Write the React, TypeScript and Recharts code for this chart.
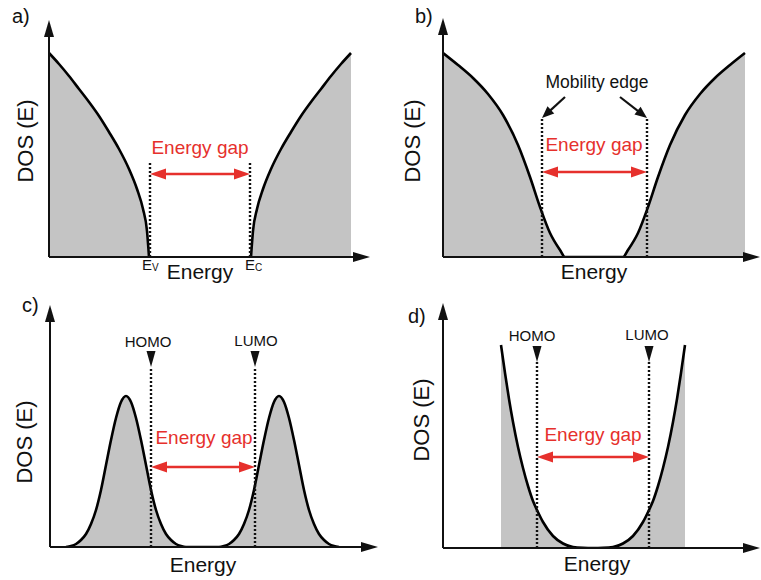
import React from 'react';
import { ComposedChart, Area, XAxis, YAxis, ReferenceLine, ReferenceDot } from 'recharts';

// ---------- data (energy / DOS in arbitrary units) ----------
type Pt = { e: number; dos: number | null };

// a) crystalline semiconductor: valence and conduction band edges
const aBands: Pt[] = [
  { e: 0, dos: 204 }, { e: 10, dos: 193 }, { e: 20, dos: 181 }, { e: 30, dos: 168 },
  { e: 40, dos: 155 }, { e: 50, dos: 141 }, { e: 60, dos: 125 }, { e: 70, dos: 108 },
  { e: 80, dos: 88 }, { e: 88, dos: 68 }, { e: 94, dos: 48 }, { e: 98, dos: 26 }, { e: 100, dos: 0 },
  { e: 151, dos: null },
  { e: 202, dos: 0 }, { e: 204, dos: 26 }, { e: 208, dos: 48 }, { e: 214, dos: 68 },
  { e: 222, dos: 88 }, { e: 232, dos: 108 }, { e: 242, dos: 125 }, { e: 252, dos: 141 },
  { e: 262, dos: 155 }, { e: 272, dos: 168 }, { e: 282, dos: 181 }, { e: 292, dos: 193 }, { e: 302, dos: 204 },
];

// b) amorphous semiconductor with band tails
const bBands: Pt[] = [
  { e: 0, dos: 204 }, { e: 15, dos: 192 }, { e: 30, dos: 179 }, { e: 45, dos: 163 },
  { e: 60, dos: 142 }, { e: 75, dos: 112 }, { e: 87, dos: 80 }, { e: 97, dos: 50 },
  { e: 107, dos: 24 }, { e: 117, dos: 7 }, { e: 122, dos: 0 }, { e: 180, dos: 0 },
  { e: 185, dos: 7 }, { e: 195, dos: 24 }, { e: 205, dos: 50 }, { e: 215, dos: 80 },
  { e: 227, dos: 112 }, { e: 242, dos: 142 }, { e: 257, dos: 163 }, { e: 272, dos: 179 },
  { e: 287, dos: 192 }, { e: 302, dos: 204 },
];

// c) molecular solid: gaussian HOMO / LUMO distributions
const cStates: Pt[] = [
  { e: 16, dos: 0 }, { e: 21, dos: 1 }, { e: 26, dos: 3 }, { e: 31, dos: 7 }, { e: 36, dos: 13 },
  { e: 41, dos: 23 }, { e: 46, dos: 37 }, { e: 51, dos: 57 }, { e: 56, dos: 82 }, { e: 61, dos: 107 },
  { e: 66, dos: 129 }, { e: 71, dos: 145 }, { e: 76, dos: 151 }, { e: 81, dos: 145 }, { e: 86, dos: 129 },
  { e: 91, dos: 107 }, { e: 96, dos: 82 }, { e: 101, dos: 57 }, { e: 106, dos: 37 }, { e: 111, dos: 23 },
  { e: 116, dos: 13 }, { e: 121, dos: 7 }, { e: 126, dos: 3 }, { e: 131, dos: 1 }, { e: 136, dos: 0 },
  { e: 169, dos: 0 }, { e: 174, dos: 1 }, { e: 179, dos: 3 }, { e: 184, dos: 7 }, { e: 189, dos: 13 },
  { e: 194, dos: 23 }, { e: 199, dos: 37 }, { e: 204, dos: 57 }, { e: 209, dos: 82 }, { e: 214, dos: 107 },
  { e: 219, dos: 129 }, { e: 224, dos: 145 }, { e: 229, dos: 151 }, { e: 234, dos: 145 }, { e: 239, dos: 129 },
  { e: 244, dos: 107 }, { e: 249, dos: 82 }, { e: 254, dos: 57 }, { e: 259, dos: 37 }, { e: 264, dos: 23 },
  { e: 269, dos: 13 }, { e: 274, dos: 7 }, { e: 279, dos: 3 }, { e: 284, dos: 1 }, { e: 289, dos: 0 },
];

// d) U-shaped DOS
const dStates: Pt[] = [
  { e: 58, dos: 203 }, { e: 62, dos: 175 }, { e: 66, dos: 149 }, { e: 70, dos: 126 }, { e: 75, dos: 101 },
  { e: 80, dos: 80 }, { e: 85, dos: 62 }, { e: 90, dos: 47 }, { e: 94, dos: 38 }, { e: 100, dos: 26 },
  { e: 110, dos: 12 }, { e: 120, dos: 4.5 }, { e: 130, dos: 1 }, { e: 140, dos: 0.2 }, { e: 150, dos: 0 },
  { e: 160, dos: 0.2 }, { e: 170, dos: 1 }, { e: 180, dos: 4.5 }, { e: 190, dos: 12 }, { e: 200, dos: 26 },
  { e: 206, dos: 38 }, { e: 210, dos: 47 }, { e: 215, dos: 62 }, { e: 220, dos: 80 }, { e: 225, dos: 101 },
  { e: 230, dos: 126 }, { e: 234, dos: 149 }, { e: 238, dos: 175 }, { e: 242, dos: 203 },
];

// gap edges (energy) for each panel
const aEdges = [101, 201];
const bEdges = [99, 204];
const cEdges = [101, 205];
const dEdges = [94, 206];

// text labels
const panelLetters = ['a)', 'b)', 'c)', 'd)'];
const yTitle = 'DOS (E)';
const xTitle = 'Energy';
const gapLabel = 'Energy gap';
const mobilityLabel = 'Mobility edge';
const orbitalLabels = ['HOMO', 'LUMO'];

// ---------- styles ----------
const FONT = '"Liberation Sans", Arial, Helvetica, sans-serif';
const GRAY = '#c4c4c4';
const RED = '#e6302c';
const INK = '#111';

const makeArrow = (color: string, width: number, headLen: number, headHalf: number, both: boolean) => (p: any) => {
  const x1 = +p.x1, y1 = +p.y1, x2 = +p.x2, y2 = +p.y2;
  const dx = x2 - x1, dy = y2 - y1;
  const L = Math.hypot(dx, dy) || 1;
  const ux = dx / L, uy = dy / L, nx = -uy, ny = ux;
  const head = (tx: number, ty: number, sx: number, sy: number) =>
    `${tx},${ty} ${tx - sx * headLen + nx * headHalf},${ty - sy * headLen + ny * headHalf} ${tx - sx * headLen - nx * headHalf},${ty - sy * headLen - ny * headHalf}`;
  const sx1 = both ? x1 + ux * headLen * 0.7 : x1;
  const sy1 = both ? y1 + uy * headLen * 0.7 : y1;
  return (
    <g>
      <line x1={sx1} y1={sy1} x2={x2 - ux * headLen * 0.7} y2={y2 - uy * headLen * 0.7} stroke={color} strokeWidth={width} />
      <polygon points={head(x2, y2, ux, uy)} fill={color} />
      {both && <polygon points={head(x1, y1, -ux, -uy)} fill={color} />}
    </g>
  );
};

const axisArrow = makeArrow(INK, 2, 17, 5, false);
const gapArrow = makeArrow(RED, 2.5, 16, 5.5, true);
const edgeArrow = makeArrow(INK, 2.2, 12, 5, false);

const textShape = (text: React.ReactNode, size: number, anchor: 'start' | 'middle' | 'end', color = INK) => (p: any) => (
  <text x={p.cx} y={p.cy} fontSize={size} fontFamily={FONT} fill={color} textAnchor={anchor}>{text}</text>
);

const rotatedShape = (text: string, size: number) => (p: any) => (
  <text x={p.cx} y={p.cy} fontSize={size} fontFamily={FONT} fill={INK} textAnchor="middle" dominantBaseline="central"
    transform={`rotate(-90 ${p.cx} ${p.cy})`}>{text}</text>
);

const subShape = (main: string, sub: string) => (p: any) => (
  <text x={p.cx} y={p.cy} fontSize={15} fontFamily={FONT} fill={INK}>
    {main}<tspan fontSize={10} dy={1}>{sub}</tspan>
  </text>
);

const triangleShape = (p: any) => (
  <polygon points={`${p.cx - 4.5},${p.cy} ${p.cx + 4.5},${p.cy} ${p.cx},${p.cy + 16}`} fill={INK} />
);

function label(key: string, x: number, y: number, shape: any) {
  return <ReferenceDot key={key} x={x} y={y} r={0} ifOverflow="visible" shape={shape} />;
}

function common(edges: number[], dotTop: number, arrowY: number, gapY: number, gapX: number) {
  return [
    <ReferenceLine key="d1" segment={[{ x: edges[0], y: 0 }, { x: edges[0], y: dotTop }]} ifOverflow="visible"
      stroke={INK} strokeWidth={2.4} strokeDasharray="2 2" />,
    <ReferenceLine key="d2" segment={[{ x: edges[1], y: 0 }, { x: edges[1], y: dotTop }]} ifOverflow="visible"
      stroke={INK} strokeWidth={2.4} strokeDasharray="2 2" />,
    <ReferenceLine key="gap" segment={[{ x: edges[0], y: arrowY }, { x: edges[1], y: arrowY }]} ifOverflow="visible"
      shape={gapArrow} />,
    label('gapt', gapX, gapY, textShape(gapLabel, 19, 'middle', RED)),
  ];
}

function axes(xMax: number, yMax: number) {
  return [
    <ReferenceLine key="ax" segment={[{ x: 0, y: 0 }, { x: xMax, y: 0 }]} ifOverflow="visible" shape={axisArrow} />,
    <ReferenceLine key="ay" segment={[{ x: 0, y: 0 }, { x: 0, y: yMax }]} ifOverflow="visible" shape={axisArrow} />,
  ];
}

type PanelProps = {
  left: number; top: number; width: number; height: number;
  margin: { top: number; right: number; bottom: number; left: number };
  xMax: number; yMax: number; data: Pt[]; children: React.ReactNode;
};

function Panel({ left, top, width, height, margin, xMax, yMax, data, children }: PanelProps) {
  return (
    <div style={{ position: 'absolute', left, top }}>
      <ComposedChart width={width} height={height} margin={margin} data={data}>
        <XAxis type="number" dataKey="e" domain={[0, xMax]} hide allowDataOverflow />
        <YAxis type="number" domain={[0, yMax]} hide allowDataOverflow />
        <Area type="monotone" dataKey="dos" stroke="#000" strokeWidth={2.6} fill={GRAY} fillOpacity={1}
          isAnimationActive={false} dot={false} activeDot={false} connectNulls={false} />
        {children}
      </ComposedChart>
    </div>
  );
}

export default function App() {
  return (
    <div style={{ position: 'absolute', left: 0, top: 0, width: 761, height: 580, background: '#fff' }}>
      {/* a */}
      <Panel left={0} top={0} width={380} height={290} margin={{ top: 20, right: 10, bottom: 33, left: 49 }}
        xMax={321} yMax={237} data={aBands}>
        {common(aEdges, 95, 83, 103, 151)}
        {axes(321, 237)}
        {label('let', -37, 234, textShape(panelLetters[0], 20, 'start'))}
        {label('yt', -24, 116, rotatedShape(yTitle, 22))}
        {label('xt', 151, -22, textShape(xTitle, 21, 'middle'))}
        {label('ev', 93, -13, subShape('E', 'V'))}
        {label('ec', 196, -13, subShape('E', 'C'))}
      </Panel>

      {/* b */}
      <Panel left={380} top={0} width={381} height={290} margin={{ top: 18, right: 1, bottom: 33, left: 63 }}
        xMax={317} yMax={239} data={bBands}>
        {common(bEdges, 139, 85, 106, 151)}
        {axes(317, 239)}
        <ReferenceLine key="m1" segment={[{ x: 122, y: 160 }, { x: 99, y: 139 }]} ifOverflow="visible" shape={edgeArrow} />
        <ReferenceLine key="m2" segment={[{ x: 177, y: 160 }, { x: 204, y: 139 }]} ifOverflow="visible" shape={edgeArrow} />
        {label('mob', 154, 169, textShape(mobilityLabel, 17.5, 'middle'))}
        {label('let', -28, 234, textShape(panelLetters[1], 20, 'start'))}
        {label('yt', -31, 116, rotatedShape(yTitle, 22))}
        {label('xt', 151, -22, textShape(xTitle, 21, 'middle'))}
      </Panel>

      {/* c */}
      <Panel left={0} top={290} width={380} height={290} margin={{ top: 15, right: 2, bottom: 33, left: 50 }}
        xMax={328} yMax={242} data={cStates}>
        {common(cEdges, 180, 80, 103, 154)}
        {axes(328, 242)}
        {label('t1', cEdges[0], 196, triangleShape)}
        {label('t2', cEdges[1], 196, triangleShape)}
        {label('homo', 98, 200, textShape(orbitalLabels[0], 15, 'middle'))}
        {label('lumo', 206, 201, textShape(orbitalLabels[1], 15, 'middle'))}
        {label('let', -28, 235, textShape(panelLetters[2], 20, 'start'))}
        {label('yt', -26, 105, rotatedShape(yTitle, 22))}
        {label('xt', 153, -25, textShape(xTitle, 21, 'middle'))}
      </Panel>

      {/* d */}
      <Panel left={380} top={290} width={381} height={290} margin={{ top: 13, right: 1, bottom: 32, left: 63 }}
        xMax={317} yMax={245} data={dStates}>
        {common(dEdges, 186, 91, 107, 150)}
        {axes(317, 245)}
        {label('t1', dEdges[0], 202, triangleShape)}
        {label('t2', dEdges[1], 202, triangleShape)}
        {label('homo', 89, 207, textShape(orbitalLabels[0], 15, 'middle'))}
        {label('lumo', 204, 208, textShape(orbitalLabels[1], 15, 'middle'))}
        {label('let', -35, 225, textShape(panelLetters[3], 20, 'start'))}
        {label('yt', -22, 128, rotatedShape(yTitle, 22))}
        {label('xt', 154, -23, textShape(xTitle, 21, 'middle'))}
      </Panel>
    </div>
  );
}
